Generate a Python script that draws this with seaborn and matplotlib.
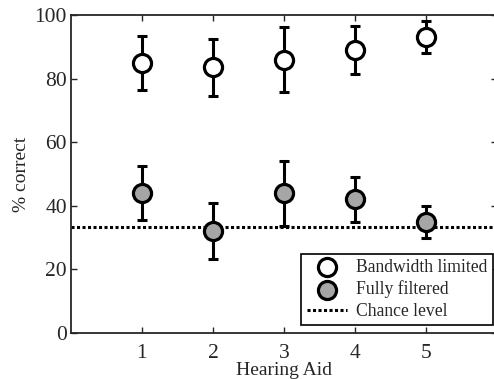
import matplotlib
matplotlib.use("Agg")
import matplotlib.pyplot as plt
import seaborn as sns
import numpy as np
import pandas as pd

aids = [1, 2, 3, 4, 5]
bw_mean = [85.0, 83.5, 86.0, 89.0, 93.2]
bw_err = [8.5, 9.0, 10.3, 7.5, 5.0]
ff_mean = [44.0, 32.0, 44.0, 42.0, 35.0]
ff_err = [8.4, 8.8, 10.2, 7.2, 5.0]
chance = 100.0 / 3

sns.set_style("ticks")
plt.rcParams['font.family'] = ['Liberation Serif', 'DejaVu Serif']
plt.rcParams['mathtext.fontset'] = 'stix'

fig = plt.figure(figsize=(4.94, 3.79), dpi=100)
ax = fig.add_axes([0.1437, 0.1214, 1.006 - 0.1437, 0.9604 - 0.1214])

df = pd.DataFrame({"aid": aids * 2,
                   "mean": bw_mean + ff_mean,
                   "err": bw_err + ff_err,
                   "cond": ["Bandwidth limited"] * 5 + ["Fully filtered"] * 5})

ax.axhline(chance, color='black', linestyle=(0, (1.0, 0.8)), lw=2.2, zorder=1,
           label='Chance level')
for cond, face in [("Bandwidth limited", "white"), ("Fully filtered", "#a6a6a6")]:
    sub = df[df.cond == cond]
    ax.errorbar(sub["aid"], sub["mean"], yerr=sub["err"], fmt='none',
                ecolor='black', elinewidth=2.2, capsize=3.5, capthick=2.2, zorder=2)
    sns.scatterplot(x=sub["aid"], y=sub["mean"], ax=ax, s=170, color=face,
                    edgecolor='black', linewidth=2.3, zorder=3, label=cond)

ax.set_xlim(0, 6)
ax.set_ylim(0, 100)
ax.set_xticks(aids)
ax.set_yticks([0, 20, 40, 60, 80, 100])
ax.tick_params(direction='in', top=True, right=True, labelsize=15.5, length=4, width=1)
ax.tick_params(axis='y', pad=3)
ax.tick_params(axis='x', pad=8)
for s in ax.spines.values():
    s.set_linewidth(1.3)
ax.set_xlabel("Hearing Aid", fontsize=14, labelpad=-1)
ax.set_ylabel("% correct", fontsize=14, labelpad=3)

h, l = ax.get_legend_handles_labels()
order = [l.index("Bandwidth limited"), l.index("Fully filtered"), l.index("Chance level")]
leg = ax.legend([h[i] for i in order], [l[i] for i in order], loc='lower right',
                bbox_to_anchor=(0.99, 0.025), fontsize=12.7, frameon=True, fancybox=False,
                edgecolor='black', framealpha=1, borderpad=0.3, handlelength=2.3,
                handletextpad=0.5, labelspacing=0.25, borderaxespad=0)
leg.get_frame().set_linewidth(1.2)

fig.savefig("out.png", dpi=100)
